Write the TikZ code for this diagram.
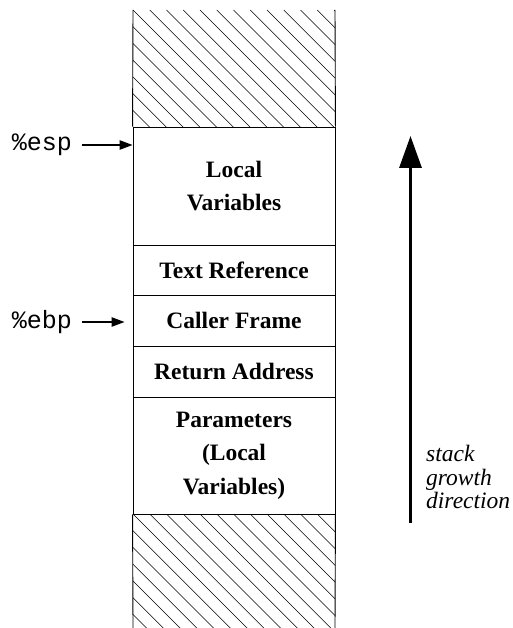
\documentclass[tikz,border=0pt]{standalone}
\usepackage{fontspec}
\setmainfont{Liberation Serif}
\setmonofont{Liberation Mono}
\usetikzlibrary{arrows.meta}
\begin{document}
\begin{tikzpicture}[x=1pt,y=-1pt,
  cell/.style={draw, line width=0.9pt, minimum width=202pt, inner sep=0pt, align=center,
    font=\fontsize{23.5}{33.5}\selectfont\bfseries},
  reg/.style={font=\fontsize{25}{28}\selectfont\ttfamily, inner sep=2pt},
  ptr/.style={-{Triangle[length=13pt,width=9.5pt]}, line width=1.1pt},
  hatchline/.style={line width=0.6pt},
  side/.style={line width=0.9pt}]
\useasboundingbox (0,0) rectangle (512,628);
% stack cells
\node[cell, minimum height=118pt] (lv) at (234,186) {Local\\Variables};
\node[cell, minimum height=50pt] (tr) at (234,270) {Text Reference};
\node[cell, minimum height=51pt] (cf) at (234,320.5) {Caller Frame};
\node[cell, minimum height=51pt] (ra) at (234,371.5) {Return Address};
\node[cell, minimum height=117pt] (pa) at (234,455.5) {Parameters\\(Local\\Variables)};
% hatched regions
\begin{scope}
  \clip (133,10) rectangle (335,127);
  \foreach \k in {-8,...,12} \draw[hatchline] ({133+16.75*\k},10) -- ++(130,130);
\end{scope}
\begin{scope}
  \clip (133,514) rectangle (335,628);
  \foreach \k in {-8,...,12} \draw[hatchline] ({133+16.75*\k},514) -- ++(130,130);
\end{scope}
\draw[side] (133,10) -- (lv.north west);
\draw[side] (335,10) -- (lv.north east);
\draw[side] (pa.south west) -- (133,628);
\draw[side] (pa.south east) -- (335,628);
% registers
\node[reg] (esp) at (42,145) {\%esp};
\node[reg] (ebp) at (42,322) {\%ebp};
\coordinate (espTip) at (132.5,145);
\coordinate (ebpTip) at (124.5,322);
\draw[ptr] ([xshift=8pt]esp.east) -- (espTip);
\draw[ptr] ([xshift=8pt]ebp.east) -- (ebpTip);
% growth arrow
\coordinate (gBase) at (410.5,523);
\coordinate (gTip) at (410.5,136);
\draw[line width=3.2pt, -{Triangle[length=32pt,width=22pt]}] (gBase) -- (gTip);
\node[anchor=west, align=left, inner sep=0pt,
  font=\fontsize{23.5}{23.5}\selectfont\itshape] (lbl) at (426,477) {stack\\growth\\direction};
\end{tikzpicture}
\end{document}
